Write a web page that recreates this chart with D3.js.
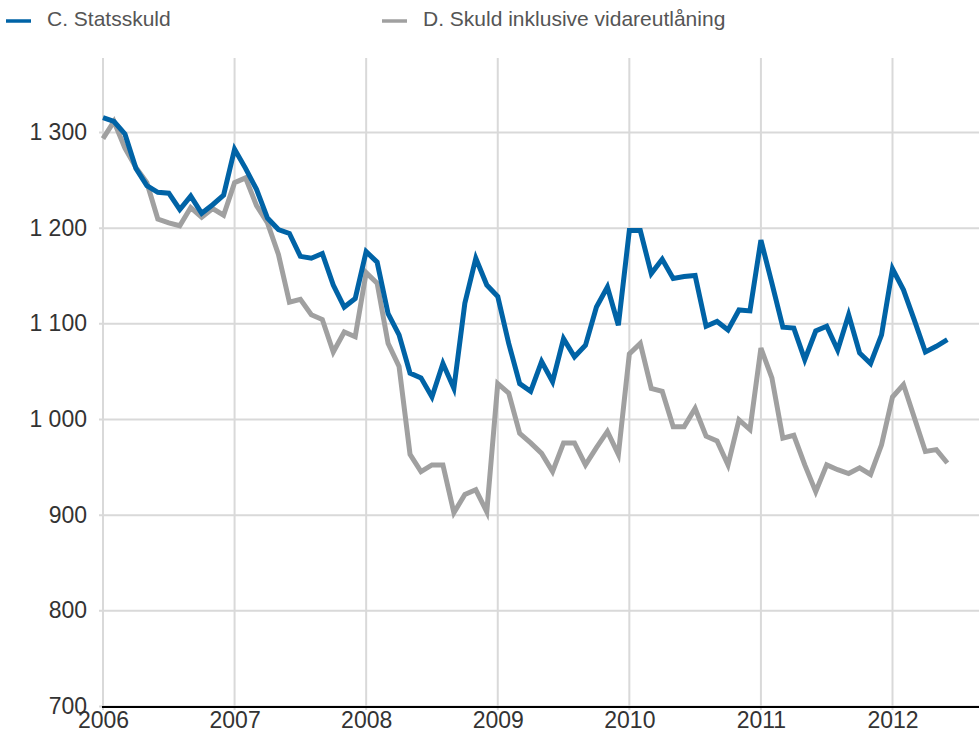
<!DOCTYPE html>
<html>
<head>
<meta charset="utf-8">
<script src="https://cdn.jsdelivr.net/npm/d3@7"></script>
<style>
  body { margin: 0; background: #fff; }
  svg { display: block; font-family: "Liberation Sans", Arial, sans-serif; }
</style>
</head>
<body>
<figure id="chart" style="margin:0"></figure>
<script>
// Monthly observations, Jan 2006 - Jun 2012 (billions SEK)
const months = d3.timeMonth.range(new Date(2006, 0, 1), new Date(2012, 6, 1));

const statsskuld = [
  1315, 1311, 1298, 1262, 1244, 1237, 1236, 1219, 1233, 1215, 1224, 1234,
  1282, 1262, 1240, 1210, 1198, 1194, 1170, 1168, 1173, 1140, 1117, 1126,
  1175, 1164, 1110, 1088, 1048, 1043, 1023, 1058, 1032, 1121, 1168, 1140,
  1128, 1079, 1037, 1029, 1060, 1039, 1084, 1065, 1077, 1117, 1138, 1098,
  1197, 1197, 1152, 1167, 1147, 1149, 1150, 1097, 1102, 1093, 1114, 1113,
  1187, 1142, 1096, 1095, 1062, 1092, 1097, 1072, 1109, 1069, 1058, 1088,
  1157, 1135, 1103, 1070, 1076, 1083
];

const inklVidareutlaning = [
  1293, 1311, 1283, 1263, 1247, 1209, 1205, 1202, 1221, 1211, 1220, 1213,
  1247, 1252, 1223, 1205, 1172, 1122, 1125, 1109, 1104, 1070, 1091, 1086,
  1153, 1142, 1079, 1055, 963, 945, 952, 952, 902, 921, 926, 903,
  1037, 1027, 985, 975, 964, 945, 975, 975, 952, 970, 987, 963,
  1068, 1079, 1032, 1029, 992, 992, 1011, 982, 977, 952, 999, 989,
  1074, 1043, 980, 983, 952, 924, 952, 947, 943, 949, 942, 973,
  1023, 1036, 1001, 966, 968, 954
];

const seriesNames = ['C. Statsskuld', 'D. Skuld inklusive vidareutlåning'];
const seriesColors = ['#0063a6', '#a0a0a0'];
const yTicks = [700, 800, 900, 1000, 1100, 1200, 1300];
const xTicks = [2006, 2007, 2008, 2009, 2010, 2011, 2012];

const width = 979;
const height = 733;
const plotTop = 58;

const fmt = d3.formatLocale({ decimal: ',', thousands: ' ', grouping: [3], currency: ['', ''] }).format(',');
const yearOf = d => d.getFullYear() + d.getMonth() / 12;

const svg = d3.select('#chart')
  .append('svg')
  .attr('width', width)
  .attr('height', height);

const x = d3.scaleLinear().domain([2006, 2012]).range([103, 892.5]);
const y = d3.scaleLinear().domain([700, 1300]).range([706, 132]);

// Horizontal grid + y labels
const yAxis = svg.append('g')
  .attr('transform', 'translate(103,0)')
  .call(d3.axisLeft(y).tickValues(yTicks).tickFormat(fmt).tickSize(-(width - 103)).tickPadding(16));
yAxis.select('.domain').remove();
yAxis.selectAll('.tick line')
  .attr('stroke', '#d9d9d9')
  .attr('stroke-width', 2)
  .attr('x1', -4)
  .attr('x2', width - 103);
yAxis.selectAll('text')
  .attr('fill', '#333')
  .style('font-size', '23px');

// Vertical grid
svg.append('g')
  .selectAll('line')
  .data(xTicks)
  .enter()
  .append('line')
  .attr('x1', d => x(d))
  .attr('x2', d => x(d))
  .attr('y1', plotTop)
  .attr('y2', 710)
  .attr('stroke', '#d9d9d9')
  .attr('stroke-width', 2);

// Lines (grey underneath blue)
const line = d3.line()
  .x((d, i) => x(yearOf(months[i])))
  .y(d => y(d));

[inklVidareutlaning, statsskuld].forEach((data, k) => {
  svg.append('path')
    .datum(data)
    .attr('fill', 'none')
    .attr('stroke', seriesColors[1 - k])
    .attr('stroke-width', 5)
    .attr('stroke-linejoin', 'miter')
    .attr('d', line);
});

// X axis
const xAxis = svg.append('g')
  .attr('transform', 'translate(0,707)')
  .call(d3.axisBottom(x).tickValues(xTicks).tickFormat(d3.format('d')).tickSize(0).tickPadding(5));
xAxis.select('.domain').remove();
xAxis.append('line')
  .attr('x1', 102)
  .attr('x2', width)
  .attr('stroke', '#000')
  .attr('stroke-width', 2);
xAxis.selectAll('text')
  .attr('fill', '#333')
  .style('font-size', '23px');

// Legend
const legendX = [6, 382];
const legend = svg.append('g');
seriesNames.forEach((name, i) => {
  legend.append('line')
    .attr('x1', legendX[i])
    .attr('x2', legendX[i] + 25)
    .attr('y1', 21)
    .attr('y2', 21)
    .attr('stroke', seriesColors[i])
    .attr('stroke-width', 3.5);
  legend.append('text')
    .attr('x', legendX[i] + 41)
    .attr('y', 26)
    .attr('fill', '#555')
    .style('font-size', '21px')
    .text(name);
});
</script>
</body>
</html>
